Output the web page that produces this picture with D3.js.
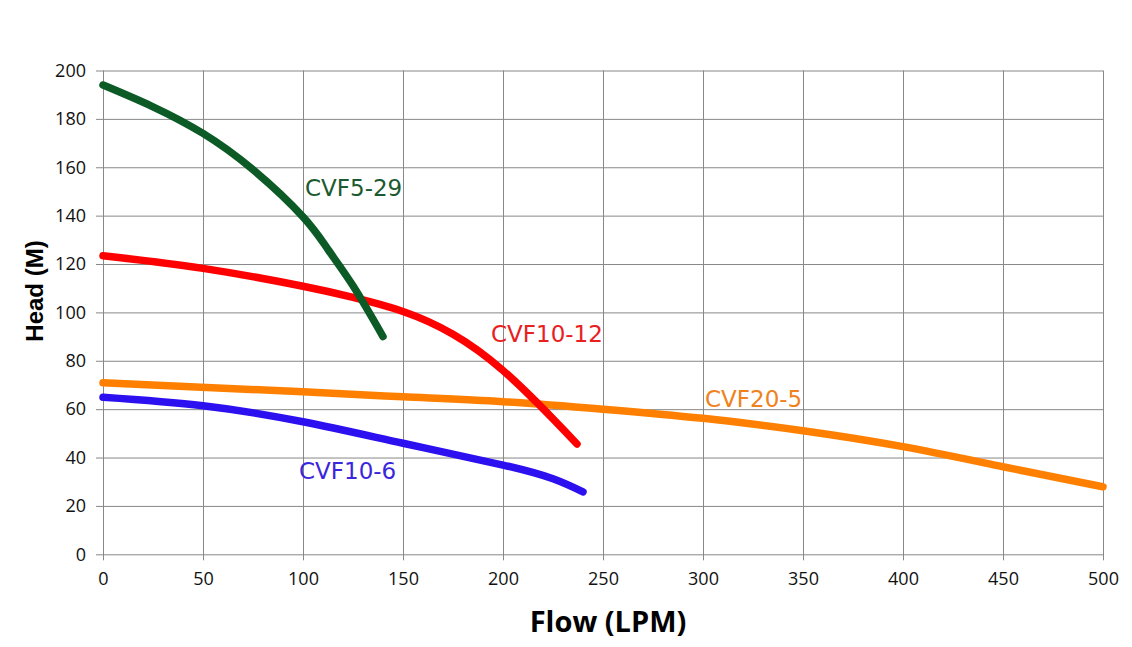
<!DOCTYPE html>
<html>
<head>
<meta charset="utf-8">
<script src="https://cdn.jsdelivr.net/npm/d3@7"></script>
<style>
  body { margin: 0; background: #fff; }
  .tick text { font-family: 'Open Sans', sans-serif; font-size: 18px; fill: #111; }
  .tick line { stroke: #888; }
  .series-label { font-family: 'DejaVu Sans', Verdana, sans-serif; font-size: 23px; }
</style>
</head>
<body>
<svg width="1132" height="647"></svg>
<script>
const xTicks = [0, 50, 100, 150, 200, 250, 300, 350, 400, 450, 500]
const yTicks = [0, 20, 40, 60, 80, 100, 120, 140, 160, 180, 200]

// flow (LPM) / head (M)
const cvf529Flow = [0, 25, 50, 75, 100, 112.5, 125, 140]
const cvf529Head = [194, 185, 174, 159, 139.5, 126, 111, 90]

const cvf1012Flow = [0, 50, 100, 125, 150, 175, 200, 225, 237]
const cvf1012Head = [123.4, 118.2, 110.8, 106.2, 100.4, 91, 76, 56, 45.6]

const cvf205Flow = [0, 100, 150, 200, 250, 300, 350, 400, 450, 500]
const cvf205Head = [70.9, 67.2, 65.1, 63.1, 60, 56.2, 51.1, 44.5, 36.2, 27.9]

const cvf106Flow = [0, 50, 100, 150, 200, 225, 240]
const cvf106Head = [64.9, 61.4, 54.8, 45.9, 36.9, 31.2, 25.8]

const seriesNames = ['CVF20-5', 'CVF10-6', 'CVF10-12', 'CVF5-29']
const seriesColors = ['#ff8000', '#2d10ef', '#ff0000', '#0c5a26']
const labelColors = ['#f0821e', '#3a26dc', '#e8201e', '#1b5a30']
// label anchor points in data units (left edge, vertical centre)
const labelFlow = [301, 98, 194, 101]
const labelHead = [64.5, 34.6, 91, 151.5]

const svg = d3.select('svg')
const margin = { top: 70.5, right: 29, bottom: 92.7, left: 103 }
const width = +svg.attr('width')
const height = +svg.attr('height')
const innerWidth = width - margin.left - margin.right
const innerHeight = height - margin.top - margin.bottom

const xScale = d3.scaleLinear().domain([0, 500]).range([0, innerWidth])
const yScale = d3.scaleLinear().domain([0, 200]).range([innerHeight, 0])

const g = svg.append('g')
  .attr('transform', `translate(${margin.left}, ${margin.top})`)

const xAxis = d3.axisBottom(xScale)
  .tickValues(xTicks)
  .tickSize(6)
  .tickSizeOuter(0)
  .tickPadding(12)

const xAxisGroup = g.append('g')
  .attr('transform', `translate(0, ${innerHeight})`)
  .call(xAxis)
xAxisGroup.select('.domain').remove()
xAxisGroup.selectAll('.tick line').attr('y1', -innerHeight)

const yAxis = d3.axisLeft(yScale)
  .tickValues(yTicks)
  .tickSize(7)
  .tickSizeOuter(0)
  .tickPadding(10)

const yAxisGroup = g.append('g').call(yAxis)
yAxisGroup.select('.domain').remove()
yAxisGroup.selectAll('.tick line').attr('x1', innerWidth)

const lineGen = d3.line()
  .x(d => xScale(d[0]))
  .y(d => yScale(d[1]))
  .curve(d3.curveNatural)

const allSeries = [
  d3.zip(cvf205Flow, cvf205Head),
  d3.zip(cvf106Flow, cvf106Head),
  d3.zip(cvf1012Flow, cvf1012Head),
  d3.zip(cvf529Flow, cvf529Head)
]

allSeries.forEach((data, i) => {
  g.append('path')
    .attr('d', lineGen(data))
    .attr('fill', 'none')
    .attr('stroke', seriesColors[i])
    .attr('stroke-width', 7.5)
    .attr('stroke-linecap', 'round')
    .attr('stroke-linejoin', 'round')
})

seriesNames.forEach((name, i) => {
  g.append('text')
    .attr('class', 'series-label')
    .attr('x', xScale(labelFlow[i]))
    .attr('y', yScale(labelHead[i]))
    .attr('dy', '0.36em')
    .attr('fill', labelColors[i])
    .text(name)
})

svg.append('text')
  .attr('x', margin.left + innerWidth / 2 + 5)
  .attr('y', 632)
  .attr('text-anchor', 'middle')
  .attr('font-family', "'Open Sans', sans-serif")
  .attr('font-weight', 'bold')
  .attr('font-size', 29)
  .attr('fill', '#000')
  .text('Flow (LPM)')

svg.append('text')
  .attr('transform', 'translate(43, 291) rotate(-90)')
  .attr('text-anchor', 'middle')
  .attr('font-family', "'Liberation Sans', Arial, sans-serif")
  .attr('font-weight', 'bold')
  .attr('font-size', 24)
  .attr('fill', '#000')
  .text('Head (M)')
</script>
</body>
</html>
